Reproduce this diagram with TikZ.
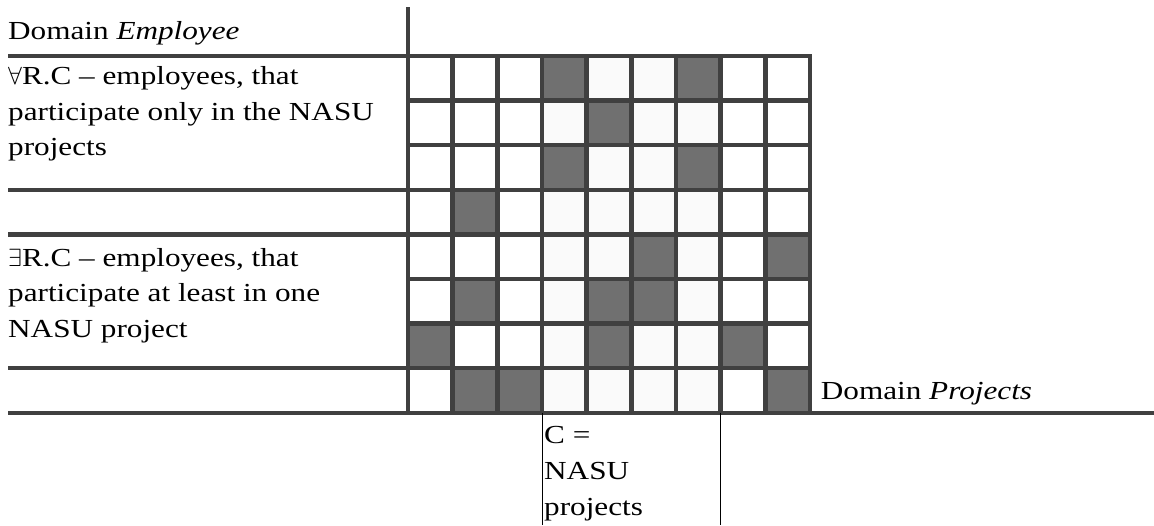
\documentclass[tikz,border=0pt]{standalone}
\usepackage{fontspec}
\setmainfont{Liberation Serif}[FakeStretch=1.2]
\begin{document}
\begin{tikzpicture}[x=1pt,y=-1pt,
  lbl/.style={anchor=base west,inner sep=0pt,align=left,font=\fontsize{26}{35.7}\selectfont},
  rule/.style={line width=4.5pt,draw=black!75,line cap=rect},
  dark/.style={fill=black!56},
  light/.style={fill=black!2}]
  \useasboundingbox (0,0) rectangle (1154,525);
  \begin{scope}[shift={(408,56)},x=44.67pt,y=-44.6pt]
    \fill[light] (3,0) rectangle (7,8);
    \foreach \c/\r in {4/1,7/1,5/2,4/3,7/3,2/4,6/5,9/5,2/6,5/6,6/6,1/7,5/7,8/7,2/8,3/8,9/8}
      \fill[dark] (\c-1,\r-1) rectangle (\c,\r);
    \foreach \i in {0,...,9} \draw[rule] (\i,0) -- (\i,8);
    \foreach \j in {0,...,8} \draw[rule] (0,\j) -- (9,\j);
  \end{scope}
  \foreach \y in {56,189.8,234.4,368.2} \draw[rule] (10,\y) -- (408,\y);
  \draw[rule] (10,412.8) -- (1154,412.8);
  \draw[rule] (408,9) -- (408,56);
  \draw[line width=1.5pt] (542.7,412.8) -- (542.7,525);
  \draw[line width=1.5pt] (720.7,412.8) -- (720.7,525);
  % multi-line labels sit on their last baseline
  \node[lbl] (emp) at (8,39.3) {Domain \textit{Employee}};
  \node[lbl] (onlyC) at (8,155.7) {$\forall$R.C – employees, that\\participate only in the NASU\\projects};
  \node[lbl] (someC) at (8,337.4) {$\exists$R.C – employees, that\\participate at least in one\\NASU project};
  \node[lbl] (proj) at (820.7,399.3) {Domain \textit{Projects}};
  \node[lbl] (nasu) at (544,515.3) {C =\\NASU\\projects};
\end{tikzpicture}
\end{document}
